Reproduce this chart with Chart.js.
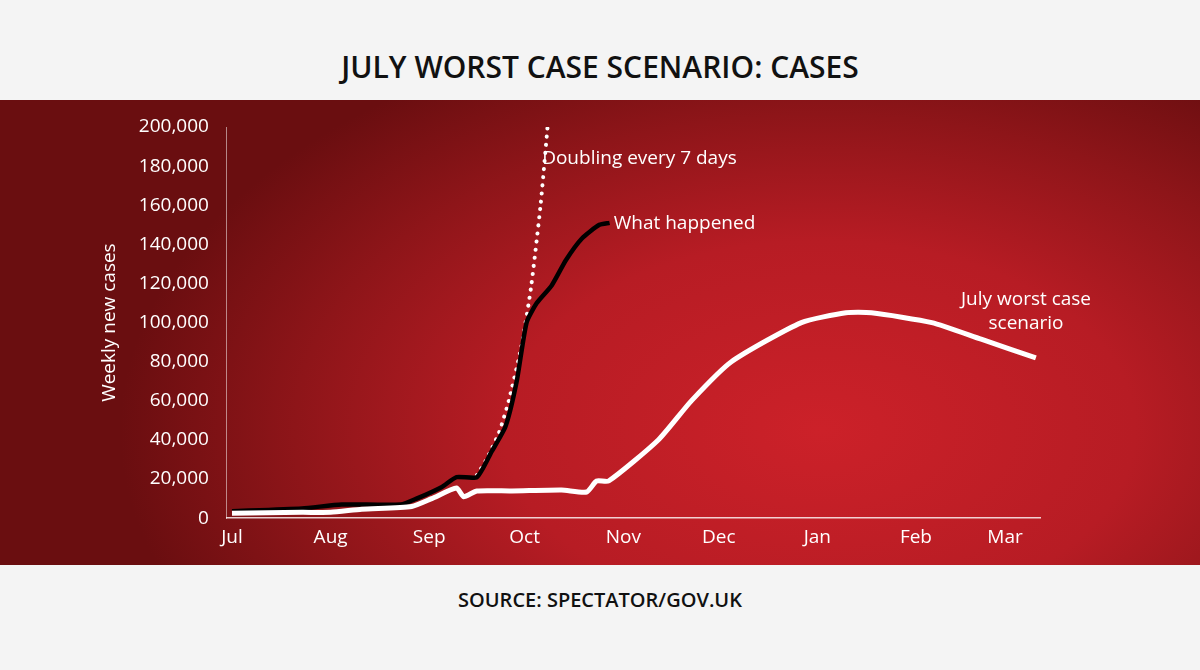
<!DOCTYPE html>
<html><head><meta charset="utf-8">
<script src="https://cdn.jsdelivr.net/npm/chart.js@4"></script>
<style>
body{margin:0;width:1200px;height:670px;overflow:hidden;background:#f4f4f4;font-family:"Open Sans",sans-serif;position:relative}
#band{position:absolute;left:0;top:100px;width:1200px;height:465px;background:radial-gradient(ellipse 700px 420px at 820px 330px,#cc2129 0%,#b71c24 45%,#8e1519 75%,#6a0e10 100%)}
#title{position:absolute;top:46px;width:100%;text-align:center;font-size:30px;font-weight:600;color:#111}
#src{position:absolute;top:586px;width:100%;text-align:center;font-size:20px;font-weight:600;color:#111}
canvas{position:absolute;left:0;top:0}
</style></head><body>
<div id="band"></div>
<div id="title">JULY WORST CASE SCENARIO: CASES</div>
<div id="src">SOURCE: SPECTATOR/GOV.UK</div>
<canvas id="c" width="1200" height="670"></canvas>
<script>
// days since 1 July
const monthDays = [0, 31, 62, 92, 123, 153, 184, 215, 243];
const monthLabels = ['Jul', 'Aug', 'Sep', 'Oct', 'Nov', 'Dec', 'Jan', 'Feb', 'Mar'];
const yTicks = [0, 20000, 40000, 60000, 80000, 100000, 120000, 140000, 160000, 180000, 200000];

const happenedDays = [0, 22, 34.5, 53, 58, 66, 70.6, 77, 81.6, 86, 89.5, 92.6, 95.8, 100.5, 105, 110, 115.5, 118.7];
const happenedCases = [3600, 5000, 7000, 7000, 10000, 16000, 21000, 21000, 34000, 47000, 70000, 100000, 110000, 119000, 132000, 143000, 150000, 151000];

const scenarioDays = [0, 22, 31, 40.8, 56.5, 62.8, 70.6, 72.8, 77, 88, 103.6, 111.5, 114.6, 118.4, 134, 144.4, 157, 179, 193, 201, 220, 235.5, 252.7];
const scenarioCases = [2500, 3000, 3000, 4600, 6000, 10000, 15400, 11000, 13900, 13900, 14400, 13400, 19000, 19000, 40000, 60000, 80000, 100000, 105000, 105000, 100000, 91500, 82000];

const doublingDays = [77, 80, 84, 87, 91, 94, 97, 99.2];
const doublingCases = [22000, 30000, 44000, 60000, 88000, 118000, 160000, 200000];

const labels = [
  {text: 'Doubling every 7 days', x: 97.5, y: 184000, align: 'left'},
  {text: 'What happened', x: 120, y: 150500, align: 'left'},
  {text: 'July worst case', x: 249.6, y: 112000, align: 'center'},
  {text: 'scenario', x: 249.6, y: 99500, align: 'center'}
];

const pts = (xs, ys) => xs.map((x, i) => ({x, y: ys[i]}));

const lineLabels = {
  id: 'lineLabels',
  afterDatasetsDraw(chart) {
    const {ctx, scales} = chart;
    ctx.save();
    ctx.fillStyle = '#fff';
    ctx.font = '19px "Open Sans"';
    ctx.textBaseline = 'middle';
    labels.forEach(l => {
      ctx.textAlign = l.align;
      ctx.fillText(l.text, scales.x.getPixelForValue(l.x), scales.y.getPixelForValue(l.y));
    });
    ctx.restore();
  }
};

new Chart(document.getElementById('c'), {
  type: 'scatter',
  data: {
    datasets: [
      {data: pts(scenarioDays, scenarioCases), showLine: true, borderColor: '#fff', borderWidth: 5, pointRadius: 0, tension: 0.2},
      {data: pts(happenedDays, happenedCases), showLine: true, borderColor: '#000', borderWidth: 4.5, pointRadius: 0, tension: 0.2},
      {data: pts(doublingDays, doublingCases), showLine: true, borderColor: '#fff', borderWidth: 4, borderDash: [0.1, 8], borderCapStyle: 'round', pointRadius: 0, tension: 0.2}
    ]
  },
  options: {
    responsive: false,
    animation: false,
    layout: {padding: {left: 98, right: 160, top: 127, bottom: 113}},
    plugins: {legend: {display: false}, tooltip: {enabled: false}},
    scales: {
      x: {
        type: 'linear', min: -1.6, max: 254,
        afterBuildTicks: ax => { ax.ticks = monthDays.map(v => ({value: v})); },
        ticks: {color: '#fff', font: {size: 19, family: 'Open Sans'}, padding: 8,
          callback: v => monthLabels[monthDays.indexOf(v)]},
        grid: {display: false, drawTicks: false},
        border: {color: 'rgba(255,255,255,0.8)', width: 1.5}
      },
      y: {
        min: 0, max: 200000,
        afterBuildTicks: ax => { ax.ticks = yTicks.map(v => ({value: v})); },
        ticks: {color: '#fff', font: {size: 19, family: 'Open Sans'}, padding: 18,
          callback: v => v.toLocaleString('en-GB')},
        grid: {display: false, drawTicks: false},
        border: {color: 'rgba(255,255,255,0.5)', width: 1},
        title: {display: true, text: 'Weekly new cases', color: '#fff', font: {size: 19, family: 'Open Sans'}, padding: 0}
      }
    }
  },
  plugins: [lineLabels]
});
</script>
</body></html>
